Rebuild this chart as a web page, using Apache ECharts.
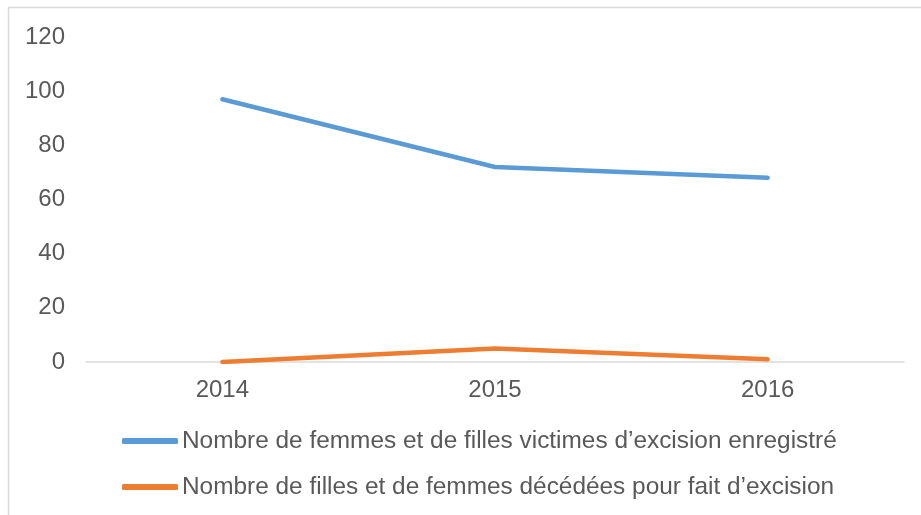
<!DOCTYPE html>
<html>
<head>
<meta charset="utf-8">
<script src="https://cdn.jsdelivr.net/npm/echarts@6/dist/echarts.min.js"></script>
<style>
  html, body { margin: 0; padding: 0; background: #fff; }
  #chart { width: 921px; height: 515px; }
</style>
</head>
<body>
<div id="chart"></div>
<script>
// données
var annees = ['2014', '2015', '2016'];
var victimes = [97, 72, 68];
var deces = [0, 5, 1];
var nomVictimes = 'Nombre de femmes et de filles victimes d\u2019excision enregistré';
var nomDeces = 'Nombre de filles et de femmes décédées pour fait d\u2019excision';

var myChart = echarts.init(document.getElementById('chart'));

var police = 'Liberation Sans, Arial, sans-serif';

var option = {
  animation: false,
  graphic: [{
    type: 'rect',
    shape: { x: 8.5, y: 7.5, width: 940, height: 540 },
    style: { fill: 'none', stroke: '#d9d9d9', lineWidth: 1.5 },
    silent: true
  }],
  grid: { left: 86, right: 17, top: 37, bottom: 153 },
  legend: {
    orient: 'vertical',
    left: 122,
    top: 429,
    padding: 0,
    itemWidth: 56,
    itemHeight: 6,
    itemGap: 22,
    textStyle: { fontFamily: police, fontSize: 24.4, color: '#595959', padding: [0, 0, 0, -1] },
    data: [
      { name: nomVictimes, icon: 'roundRect' },
      { name: nomDeces, icon: 'roundRect' }
    ]
  },
  xAxis: {
    type: 'category',
    data: annees,
    boundaryGap: true,
    axisLine: { lineStyle: { color: '#d9d9d9', width: 1.5 } },
    axisTick: { show: false },
    axisLabel: { fontFamily: police, fontSize: 24, color: '#595959', margin: 16 }
  },
  yAxis: {
    type: 'value',
    min: 0,
    max: 120,
    interval: 20,
    axisLine: { show: false },
    axisTick: { show: false },
    splitLine: { show: false },
    axisLabel: { fontFamily: police, fontSize: 24, color: '#595959', margin: 21 }
  },
  series: [
    {
      name: nomVictimes,
      type: 'line',
      data: victimes,
      symbol: 'none',
      lineStyle: { color: '#5b9bd5', width: 4.5, cap: 'round' },
      itemStyle: { color: '#5b9bd5' }
    },
    {
      name: nomDeces,
      type: 'line',
      data: deces,
      symbol: 'none',
      lineStyle: { color: '#ed7d31', width: 4.5, cap: 'round' },
      itemStyle: { color: '#ed7d31' }
    }
  ]
};

myChart.setOption(option);
</script>
</body>
</html>
